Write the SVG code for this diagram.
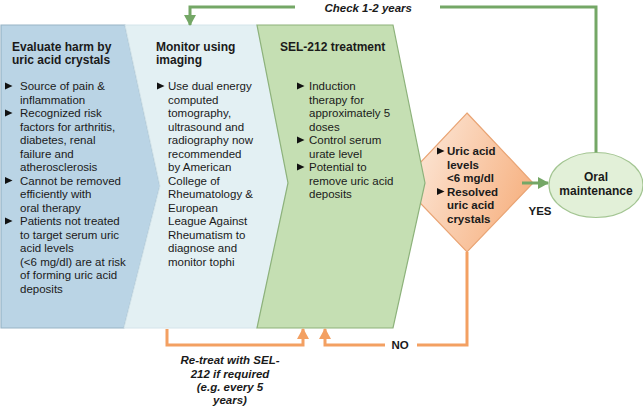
<svg xmlns="http://www.w3.org/2000/svg" width="643" height="406" viewBox="0 0 643 406">
<defs>
<style>
text{font-family:"Liberation Sans",Arial,sans-serif;font-size:11.5px;fill:#1a1a1a}
.b{font-weight:bold}
.t{font-weight:bold;font-size:12px}
.bi{font-weight:bold;font-style:italic}
.c{text-anchor:middle}
.g{fill:none;stroke:#74a766;stroke-width:3}
.o{fill:none;stroke:#f3a062;stroke-width:3}
</style>
<path id="bul" d="M0,-3.5 L7.5,0 L0,3.5Z" fill="#111"/>
<marker id="ag" markerUnits="userSpaceOnUse" markerWidth="14" markerHeight="14" refX="10" refY="7" orient="auto"><path d="M0,1 L11,7 L0,13Z" fill="#74a766"/></marker>
<marker id="ao" markerUnits="userSpaceOnUse" markerWidth="14" markerHeight="14" refX="10" refY="7" orient="auto"><path d="M0,1 L11,7 L0,13Z" fill="#f3a062"/></marker>
<linearGradient id="dg" x1="0" y1="0" x2="1" y2="0.4"><stop offset="0" stop-color="#fdf0e6"/><stop offset="1" stop-color="#f7b587"/></linearGradient>
</defs>

<g id="n-decision">
<polygon points="467,113 533,183 467,252 401,183" fill="url(#dg)" stroke="#e9a474" stroke-width="1.2"/>
<use href="#bul" x="437" y="151"/>
<text class="b" x="447" y="155">Uric acid</text>
<text class="b" x="447" y="168.5">levels</text>
<text class="b" x="447" y="182">&lt;6 mg/dl</text>
<use href="#bul" x="437" y="191.5"/>
<text class="b" x="447" y="195.5">Resolved</text>
<text class="b" x="447" y="209">uric acid</text>
<text class="b" x="447" y="222.5">crystals</text>
</g>

<g id="n-evaluate">
<polygon points="1,25 125,25 160,186 124,328 1,328" fill="#bad4e5" stroke="#97b4c6" stroke-width="1.2"/>
<text class="t" x="12" y="51">Evaluate harm by</text>
<text class="t" x="12" y="64">uric acid crystals</text>
<use href="#bul" x="5" y="86"/>
<text x="20" y="90">Source of pain &amp;</text>
<text x="20" y="103.5">inflammation</text>
<use href="#bul" x="5" y="113"/>
<text x="20" y="117">Recognized risk</text>
<text x="20" y="130.5">factors for arthritis,</text>
<text x="20" y="144">diabetes, renal</text>
<text x="20" y="157.5">failure and</text>
<text x="20" y="171">atherosclerosis</text>
<use href="#bul" x="5" y="180.5"/>
<text x="20" y="184.5">Cannot be removed</text>
<text x="20" y="198">efficiently with</text>
<text x="20" y="211.5">oral therapy</text>
<use href="#bul" x="5" y="221"/>
<text x="20" y="225">Patients not treated</text>
<text x="20" y="238.5">to target serum uric</text>
<text x="20" y="252">acid levels</text>
<text x="20" y="265.5">(&lt;6 mg/dl) are at risk</text>
<text x="20" y="279">of forming uric acid</text>
<text x="20" y="292.5">deposits</text>
</g>

<g id="n-monitor">
<polygon points="125,25 257,25 288,183 257,328 124,328 160,186" fill="#e3f0f3" stroke="#d4e4ea" stroke-width="1"/>
<text class="t" x="156" y="51">Monitor using</text>
<text class="t" x="156" y="64">imaging</text>
<use href="#bul" x="157" y="86"/>
<text x="168" y="90">Use dual energy</text>
<text x="168" y="103.5">computed</text>
<text x="168" y="117">tomography,</text>
<text x="168" y="130.5">ultrasound and</text>
<text x="168" y="144">radiography now</text>
<text x="168" y="157.5">recommended</text>
<text x="168" y="171">by American</text>
<text x="168" y="184.5">College of</text>
<text x="168" y="198">Rheumatology &amp;</text>
<text x="168" y="211.5">European</text>
<text x="168" y="225">League Against</text>
<text x="168" y="238.5">Rheumatism to</text>
<text x="168" y="252">diagnose and</text>
<text x="168" y="265.5">monitor tophi</text>
</g>

<g id="n-treatment">
<polygon points="257,25 393,25 425,183 393,328 257,328 288,183" fill="#c5dfb3" stroke="#8db27b" stroke-width="1.2"/>
<text class="t" x="280" y="51">SEL-212 treatment</text>
<use href="#bul" x="297" y="86"/>
<text x="309" y="90">Induction</text>
<text x="309" y="103.5">therapy for</text>
<text x="309" y="117">approximately 5</text>
<text x="309" y="130.5">doses</text>
<use href="#bul" x="297" y="140"/>
<text x="309" y="144">Control serum</text>
<text x="309" y="157.5">urate level</text>
<use href="#bul" x="297" y="167"/>
<text x="309" y="171">Potential to</text>
<text x="309" y="184.5">remove uric acid</text>
<text x="309" y="198">deposits</text>
</g>

<g id="n-oral">
<ellipse cx="596" cy="185" rx="47" ry="32.5" fill="#e2f0d8" stroke="#a3c592" stroke-width="1.2"/>
<text class="t c" x="596" y="181">Oral</text>
<text class="t c" x="596" y="195">maintenance</text>
</g>

<g id="connectors">
<path class="g" d="M596,152.5 V7 H440"/>
<path class="g" d="M295,7 H190 V25" marker-end="url(#ag)"/>
<path class="g" d="M522,183 H548" marker-end="url(#ag)"/>
<path class="o" d="M167,329 V345 H303 V329" marker-end="url(#ao)"/>
<path class="o" d="M467,252 V345 H417"/>
<path class="o" d="M385,345 H325 V329" marker-end="url(#ao)"/>
<text class="bi" x="412" y="12" text-anchor="end">Check 1-2 years</text>
<text class="b c" x="540" y="215">YES</text>
<text class="b c" x="400" y="349">NO</text>
<text class="bi c" x="230" y="364">Re-treat with SEL-</text>
<text class="bi c" x="230" y="377.5">212 if required</text>
<text class="bi c" x="230" y="391">(e.g. every 5</text>
<text class="bi c" x="230" y="404">years)</text>
</g>
</svg>
